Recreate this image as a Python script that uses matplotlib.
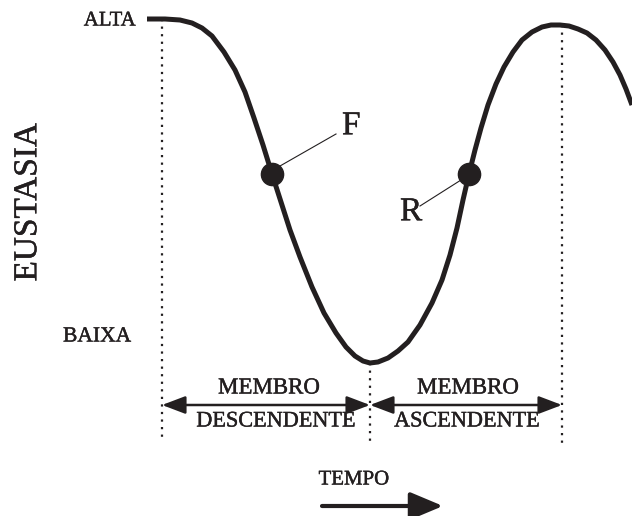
import numpy as np
import matplotlib
matplotlib.use("Agg")
import matplotlib.pyplot as plt
import matplotlib.patheffects as pe
from matplotlib.patches import FancyArrowPatch

INK = "#231f20"
plt.rcParams["font.family"] = ["Liberation Serif", "DejaVu Serif"]

# curva de eustasia (coordenadas da imagem)
tempo = [147, 165, 180, 192, 202, 212, 224, 235, 245, 254, 263, 272, 281, 290,
         300, 312, 324, 336, 346, 355, 363, 370, 378, 388, 398, 408, 420, 432,
         442, 450, 457, 463, 469, 475, 481, 488, 496, 504, 513, 522, 532, 542,
         551, 560, 569, 578, 587, 596, 605, 613, 620, 626, 632]
eustasia = [19, 19, 20, 23, 28, 36, 52, 70, 92, 118, 145, 174, 202, 230,
            257, 287, 313, 333, 347, 356, 361, 363, 362, 358, 351, 342, 325, 303,
            280, 255, 228, 200, 174, 150, 128, 105, 84, 67, 52, 40, 32, 27,
            25, 25, 26, 29, 33, 40, 50, 62, 75, 89, 105]

# pontos de inflexão F e R
pontos_t = [272, 469]
pontos_e = [174, 174]

# limites verticais (alta, baixa, alta)
marcos_t = [162, 370, 562]
marcos_topo = [19, 363, 25]
marcos_base = [442, 444, 448]

fig = plt.figure(figsize=(6.32, 5.16), dpi=100, facecolor="white")
ax = fig.add_axes([0, 0, 1, 1])
ax.set_xlim(0, 632)
ax.set_ylim(516, 0)
ax.axis("off")

grosso = [pe.withStroke(linewidth=0.3, foreground=INK)]

def rotulo(x, y, s, size, **kw):
    ax.text(x, y, s, fontsize=size, color=INK, va="center",
            path_effects=grosso, **kw)

ax.plot(tempo, eustasia, color=INK, lw=3.6, solid_joinstyle="round",
        solid_capstyle="butt", zorder=3)
ax.plot(pontos_t, pontos_e, "o", color=INK, ms=16, zorder=4)

for t, top, bot in zip(marcos_t, marcos_topo, marcos_base):
    ax.plot([t, t], [top, bot], color=INK, lw=1.6, ls=(0, (1, 2.4)), zorder=2)

# linhas guia das letras
ax.plot([280, 336], [166, 134], color=INK, lw=0.8)
ax.plot([461, 420], [180, 206], color=INK, lw=0.8)
rotulo(342, 126, "F", 24, ha="left")
rotulo(400, 212, "R", 24, ha="left")

rotulo(136, 21, "ALTA", 15, ha="right")
rotulo(131, 337, "BAIXA", 15.5, ha="right")
rotulo(28, 202, "EUSTASIA", 24, rotation=90, ha="center")

# membros
for a, b in [(marcos_t[0], marcos_t[1]), (marcos_t[1], marcos_t[2])]:
    ax.add_patch(FancyArrowPatch((a, 405), (b, 405),
                 arrowstyle="<|-|>,head_length=0.95,head_width=0.36",
                 mutation_scale=15, color=INK, lw=1.8,
                 shrinkA=0, shrinkB=0, zorder=3))
rotulo(269, 388, "MEMBRO", 16.5, ha="center")
rotulo(276, 422, "DESCENDENTE", 16, ha="center")
rotulo(468, 388, "MEMBRO", 16.5, ha="center")
rotulo(467, 422, "ASCENDENTE", 16, ha="center")

rotulo(354, 480, "TEMPO", 15, ha="center")
ax.add_patch(FancyArrowPatch((322, 506), (443, 506),
             arrowstyle="-|>,head_length=1.0,head_width=0.42",
             mutation_scale=20, color=INK, lw=3.0,
             shrinkA=0, shrinkB=0))

fig.savefig("out.png", dpi=100, facecolor="white")
